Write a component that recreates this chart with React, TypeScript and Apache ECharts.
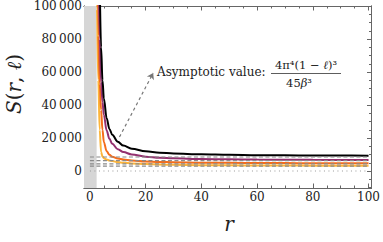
import React, { useEffect, useRef } from "react";
import * as echarts from "echarts";

const rGrid = [2.2, 2.5, 3, 3.5, 4, 4.5, 5, 6, 7, 8, 10, 12, 15, 20, 25, 30, 40, 50, 60, 70, 80, 90, 100];
const blackS = [null, null, null, 116000, 75000, 55000, 44000, 32000, 25500, 22000, 17700, 15400, 13500, 11900, 11100, 10600, 10100, 9800, 9600, 9500, 9400, 9350, 9300];
const purpleS = [null, null, 138000, 80000, 54000, 42000, 34000, 24500, 19500, 16500, 13200, 11500, 10000, 8700, 8100, 7700, 7300, 7050, 6900, 6800, 6750, 6720, 6700];
const orangeS = [null, 180000, 82000, 53000, 37000, 25000, 17500, 12000, 9800, 8700, 7600, 7000, 6400, 5800, 5500, 5300, 5050, 4950, 4850, 4800, 4750, 4720, 4700];
const yellowS = [160000, 98000, 55000, 25000, 11500, 8800, 7800, 6900, 6400, 6000, 5400, 5000, 4600, 4200, 3900, 3750, 3550, 3450, 3350, 3300, 3250, 3220, 3200];
const asymptotes = [8500, 6300, 4300, 2900];
const xTicks = [0, 20, 40, 60, 80, 100];
const xMinorTicks = [0, 5, 10, 15, 20, 25, 30, 35, 40, 45, 50, 55, 60, 65, 70, 75, 80, 85, 90, 95, 100];
const yTicks = [0, 20000, 40000, 60000, 80000, 100000];
const yMinorTicks = [-10000, -5000, 0, 5000, 10000, 15000, 20000, 25000, 30000, 35000, 40000, 45000, 50000, 55000, 60000, 65000, 70000, 75000, 80000, 85000, 90000, 95000, 100000];
const shadeRange = [-2.2, 2.4];
const arrowFrom = [10.6, 20600];
const arrowTo = [22.7, 59400];

const X_MIN = -2.13;
const X_MAX = 101.06;
const Y_MIN = -10300;
const Y_MAX = 100000;

const FONT = "DejaVu Serif";
const FRAME = "#666";

function pairs(ys: (number | null)[]) {
  const out: number[][] = [];
  rGrid.forEach((r, i) => {
    const v = ys[i];
    if (v !== null) out.push([r, v]);
  });
  return out;
}

function fmtY(v: number) {
  if (v === 0) return "0";
  return Math.round(v / 1000) + "\u2009000";
}

const labelStyle = { color: "#222", fontFamily: FONT, fontSize: 12, fontWeight: "normal" };

function xAxisDef(pos: "bottom" | "top", minor: boolean, labels: boolean) {
  return {
    type: "value",
    position: pos,
    min: X_MIN,
    max: X_MAX,
    axisLine: { show: true, onZero: false, lineStyle: { color: FRAME, width: 1 } },
    splitLine: { show: false },
    axisTick: {
      show: true,
      inside: true,
      length: minor ? 2.5 : 4.5,
      customValues: minor ? xMinorTicks : xTicks,
      lineStyle: { color: FRAME, width: 1 },
    },
    axisLabel: labels ? { show: true, customValues: xTicks, margin: 3, ...labelStyle } : { show: false },
  };
}

function yAxisDef(pos: "left" | "right", minor: boolean, labels: boolean) {
  return {
    type: "value",
    position: pos,
    min: Y_MIN,
    max: Y_MAX,
    axisLine: { show: true, onZero: false, lineStyle: { color: FRAME, width: 1 } },
    splitLine: { show: false },
    axisTick: {
      show: true,
      inside: true,
      length: minor ? 2.5 : 4.5,
      customValues: minor ? yMinorTicks : yTicks,
      lineStyle: { color: FRAME, width: 1 },
    },
    axisLabel: labels
      ? { show: true, customValues: yTicks, margin: 2, ...labelStyle, formatter: (v: number) => fmtY(v) }
      : { show: false },
  };
}

export default function App() {
  const ref = useRef<HTMLDivElement>(null);
  useEffect(() => {
    if (!ref.current) return;
    const chart = echarts.init(ref.current, null, { renderer: "svg" });
    const curve = (name: string, ys: (number | null)[], color: string, z: number) => ({
      name,
      type: "line",
      data: pairs(ys),
      showSymbol: false,
      symbol: "none",
      smooth: 0.35,
      smoothMonotone: "x",
      clip: true,
      z,
      lineStyle: { color, width: 2 },
    });
    const txt = (extra: any) => ({ fontFamily: FONT, fill: "#222", ...extra });
    const option: any = {
      animation: false,
      backgroundColor: "#fff",
      textStyle: { fontFamily: FONT },
      grid: { left: 84, right: 8, top: 6, bottom: 54, containLabel: false },
      xAxis: [
        xAxisDef("bottom", false, true),
        xAxisDef("bottom", true, false),
        xAxisDef("top", false, false),
        xAxisDef("top", true, false),
      ],
      yAxis: [
        yAxisDef("left", false, true),
        yAxisDef("left", true, false),
        yAxisDef("right", false, false),
        yAxisDef("right", true, false),
      ],
      series: [
        {
          type: "line",
          data: [],
          z: 1,
          markArea: {
            silent: true,
            itemStyle: { color: "#d6d6d6" },
            data: [[{ xAxis: shadeRange[0] }, { xAxis: shadeRange[1] }]],
          },
        },
        {
          type: "line",
          data: [
            [0, 0],
            [100, 0],
          ],
          symbol: "none",
          z: 2,
          lineStyle: { color: "#999", width: 1.2, type: [1, 3.5] },
        },
        curve("yellow", yellowS, "#fcb53b", 3),
        curve("orange", orangeS, "#f46d1b", 4),
        curve("purple", purpleS, "#93306f", 5),
        curve("black", blackS, "#000000", 6),
        ...asymptotes.map((a) => ({
          type: "line",
          data: [
            [0, a],
            [100, a],
          ],
          symbol: "none",
          z: 7,
          lineStyle: { color: "#8a8a8a", width: 1.2, type: [4, 2.5] },
        })),
        {
          type: "line",
          data: [],
          z: 8,
          markLine: {
            silent: true,
            symbol: ["none", "arrow"],
            symbolSize: 6,
            label: { show: false },
            lineStyle: { color: "#777", width: 1.2, type: [3, 3] },
            data: [[{ coord: arrowFrom }, { coord: arrowTo }]],
          },
        },
      ],
      graphic: [
        {
          type: "text",
          x: 14,
          y: 84,
          rotation: Math.PI / 2,
          style: txt({
            text: "{i|S}({i|r}, {i|ℓ})",
            rich: { i: { fontStyle: "italic", fontFamily: FONT, fontSize: 20, fill: "#222" } },
            fontSize: 20,
            align: "center",
            verticalAlign: "middle",
          }),
        },
        {
          type: "text",
          x: 229,
          y: 224,
          style: txt({ text: "r", fontStyle: "italic", fontSize: 20, align: "center", verticalAlign: "middle" }),
        },
        {
          type: "text",
          x: 157,
          y: 72,
          style: txt({ text: "Asymptotic value:", fontSize: 12, align: "left", verticalAlign: "middle" }),
        },
        {
          type: "text",
          x: 306,
          y: 65,
          style: txt({
            text: "4π⁴(1 − {i|ℓ})³",
            rich: { i: { fontStyle: "italic", fontFamily: FONT, fontSize: 11.5, fill: "#222" } },
            fontSize: 11.5,
            align: "center",
            verticalAlign: "middle",
          }),
        },
        {
          type: "line",
          shape: { x1: 271, y1: 73.5, x2: 341, y2: 73.5 },
          style: { stroke: "#333", lineWidth: 0.8 },
        },
        {
          type: "text",
          x: 299,
          y: 83,
          style: txt({
            text: "45{i|β}³",
            rich: { i: { fontStyle: "italic", fontFamily: FONT, fontSize: 11.5, fill: "#222" } },
            fontSize: 11.5,
            align: "center",
            verticalAlign: "middle",
          }),
        },
      ],
    };
    chart.setOption(option);
    return () => chart.dispose();
  }, []);
  return (
    <div
      ref={ref}
      style={{ position: "fixed", left: 0, top: 0, width: 383, height: 242, background: "#fff" }}
    />
  );
}
